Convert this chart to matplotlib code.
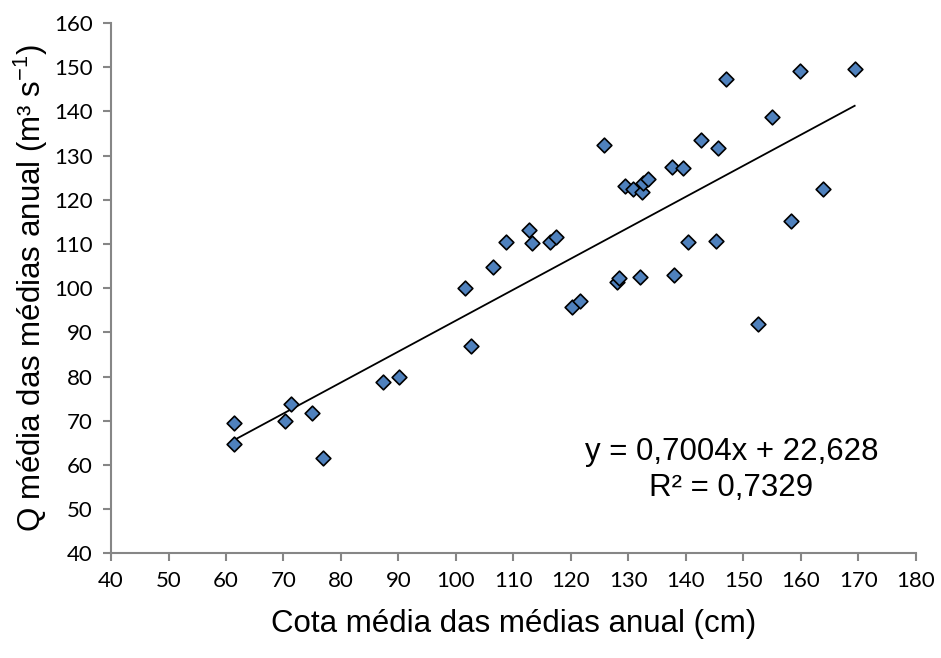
"""
Scatter of annual mean discharge against annual mean stage, with linear trend.
"""

import matplotlib

matplotlib.use("Agg")  # headless
import matplotlib.pyplot as plt
import numpy as np

# annual mean stage (cm)
cota = [
    61.4, 61.4, 70.2, 71.3, 75.0, 76.9, 87.4, 90.1, 101.6, 102.7,
    106.5, 108.8, 112.8, 113.2, 116.4, 117.4, 120.2, 121.6, 125.8, 128.1,
    128.4, 129.4, 130.9, 132.0, 132.4, 132.6, 133.4, 137.6, 137.9, 139.5,
    140.4, 142.7, 145.2, 145.7, 147.0, 152.6, 155.0, 158.4, 159.9, 163.9,
    169.4,
]
# annual mean discharge (m3/s)
vazao = [
    69.4, 64.7, 69.9, 73.9, 71.8, 61.5, 78.7, 80.0, 100.1, 86.9,
    104.9, 110.4, 113.2, 110.2, 110.5, 111.6, 95.8, 97.1, 132.4, 101.5,
    102.2, 123.2, 122.4, 102.6, 121.7, 123.9, 124.7, 127.5, 103.1, 127.3,
    110.5, 133.5, 110.7, 131.7, 147.4, 92.0, 138.8, 115.3, 149.2, 122.5,
    149.6,
]

slope = 0.7004
intercept = 22.628
r2 = 0.7329

x_ticks = list(range(40, 181, 10))
y_ticks = list(range(40, 161, 10))

AXIS_GRAY = "#868686"

plt.rcParams["font.family"] = ["Liberation Sans", "DejaVu Sans"]
plt.rcParams["mathtext.default"] = "regular"

fig = plt.figure(figsize=(9.41, 6.58), dpi=100)
ax = fig.add_axes([0.118, 0.159, 0.855, 0.806])

ax.scatter(cota, vazao, marker="D", s=56, color="#4F81BD",
           edgecolors="black", linewidths=1.2, zorder=3)

xs = np.array([min(cota), max(cota)])
ax.plot(xs, slope * xs + intercept, color="black", linewidth=1.3, zorder=2)

ax.text(0.771, 0.176,
        f"y = {slope:.4f}x + {intercept:.3f}".replace(".", ","),
        transform=ax.transAxes, ha="center", va="baseline", fontsize=22.5)
ax.text(0.771, 0.108, f"R² = {r2:.4f}".replace(".", ","),
        transform=ax.transAxes, ha="center", va="baseline", fontsize=22.5)

ax.set_xlim(40, 180)
ax.set_ylim(40, 160)
ax.set_xticks(x_ticks)
ax.set_yticks(y_ticks)
for lab in ax.get_xticklabels() + ax.get_yticklabels():
    lab.set_fontfamily(["Lato", "DejaVu Sans"])
    lab.set_fontsize(16)

ax.tick_params(direction="out", length=6, width=1.5, color=AXIS_GRAY, pad=7)
for side in ("top", "right"):
    ax.spines[side].set_visible(False)
for side in ("left", "bottom"):
    ax.spines[side].set_color(AXIS_GRAY)
    ax.spines[side].set_linewidth(1.5)

ax.set_xlabel("Cota média das médias anual (cm)", fontsize=22.5, labelpad=13)
ax.set_ylabel("Q média das médias anual (m³ s$^{-1}$)", fontsize=22.5, labelpad=3)

plt.savefig("out.png", dpi=100)
plt.close()
